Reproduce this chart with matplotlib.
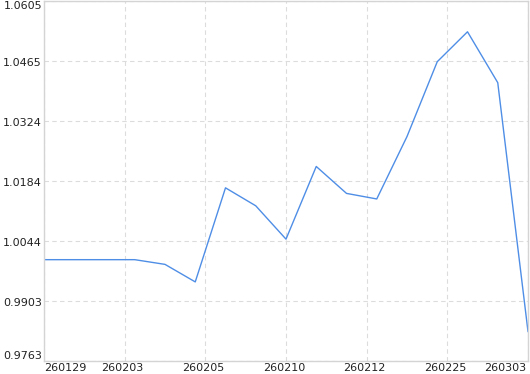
import matplotlib
matplotlib.use("Agg")
import matplotlib.pyplot as plt
import numpy as np

values = [1.0000, 1.0000, 1.0000, 1.0000, 0.9989, 0.9948, 1.0168, 1.0126, 1.0048,
          1.0218, 1.0155, 1.0142, 1.0288, 1.0463, 1.0533, 1.0414, 0.9832]
x_labels = ["260129", "260203", "260205", "260210", "260212", "260225", "260303"]
y_min, y_max = 0.9763, 1.0605

fig = plt.figure(figsize=(5.3, 3.74), dpi=100)
ax = fig.add_axes([44/530, 13/374, 484/530, 360/374])

x = np.arange(len(values))
ax.plot(x, values, color="#4f8ee6", linewidth=1.0)

n = len(values) - 1
xt = np.linspace(0, n, len(x_labels))
yt = np.linspace(y_min, y_max, 7)
ax.set_xlim(0, n)
ax.set_ylim(y_min, y_max)
ax.set_xticks(xt)
ax.set_yticks(yt)
ax.set_xticklabels([])
ax.set_yticklabels([])
ax.tick_params(length=0)
ax.grid(True, color="#dcdcdc", linestyle=(0, (4, 3)), linewidth=0.8)
for s in ax.spines.values():
    s.set_color("#d4d4d4")
    s.set_linewidth(1.0)

fs = 8
for i, (xv, lab) in enumerate(zip(xt, x_labels)):
    if i == 0:
        ha, dx = "left", 0
    elif i == len(x_labels) - 1:
        ha, dx = "right", -2
    else:
        ha, dx = "center", -2
    ax.annotate(lab, (xv, 0), xycoords=("data", "axes fraction"),
                xytext=(dx, -2), textcoords="offset pixels",
                ha=ha, va="top", fontsize=fs, color="#222222")
for i, yv in enumerate(yt):
    if i == 0:
        va, dy = "bottom", 0
    elif i == len(yt) - 1:
        va, dy = "top", 0
    else:
        va, dy = "center", -2
    ax.annotate(f"{yv:.4f}", (0, yv), xycoords=("axes fraction", "data"),
                xytext=(-2, dy), textcoords="offset pixels",
                ha="right", va=va, fontsize=fs, color="#222222")

fig.savefig("out.png", dpi=100)
